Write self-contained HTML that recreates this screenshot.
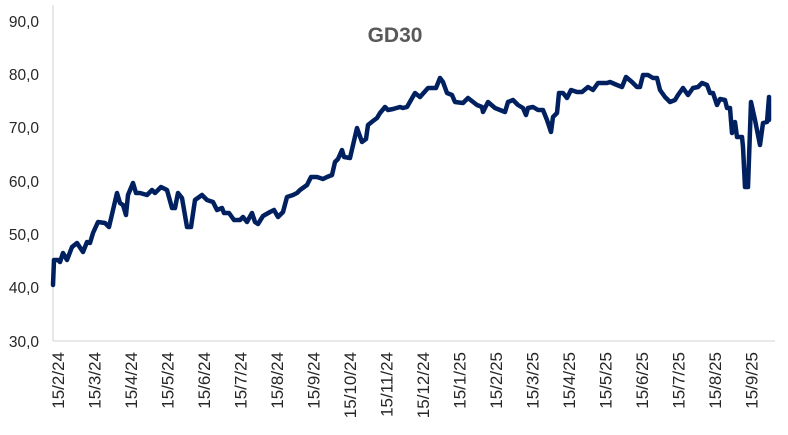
<!DOCTYPE html>
<html><head><meta charset="utf-8"><style>
html,body{margin:0;padding:0;background:#fff;}
svg{display:block;font-family:"Liberation Sans",sans-serif;}
</style></head><body>
<svg width="788" height="435" viewBox="0 0 788 435">
<text x="395" y="42" text-anchor="middle" font-size="21" font-weight="bold" fill="#595959">GD30</text>
<g font-size="15.5" fill="#262626" text-anchor="end">
<text x="39" y="27">90,0</text>
<text x="39" y="80">80,0</text>
<text x="39" y="133">70,0</text>
<text x="39" y="187">60,0</text>
<text x="39" y="240">50,0</text>
<text x="39" y="293">40,0</text>
<text x="39" y="347">30,0</text>
</g>
<line x1="53" y1="5" x2="53" y2="341" stroke="#d0d0d0" stroke-width="1"/>
<line x1="53" y1="341" x2="775" y2="341" stroke="#d0d0d0" stroke-width="1"/>
<g font-size="17" fill="#262626" text-anchor="end">
<text transform="translate(64,352) rotate(-90)">15/2/24</text>
<text transform="translate(100.5,352) rotate(-90)">15/3/24</text>
<text transform="translate(137,352) rotate(-90)">15/4/24</text>
<text transform="translate(173.5,352) rotate(-90)">15/5/24</text>
<text transform="translate(210,352) rotate(-90)">15/6/24</text>
<text transform="translate(246.5,352) rotate(-90)">15/7/24</text>
<text transform="translate(283,352) rotate(-90)">15/8/24</text>
<text transform="translate(319.5,352) rotate(-90)">15/9/24</text>
<text transform="translate(356,352) rotate(-90)">15/10/24</text>
<text transform="translate(392.5,352) rotate(-90)">15/11/24</text>
<text transform="translate(429,352) rotate(-90)">15/12/24</text>
<text transform="translate(465.5,352) rotate(-90)">15/1/25</text>
<text transform="translate(502,352) rotate(-90)">15/2/25</text>
<text transform="translate(538.5,352) rotate(-90)">15/3/25</text>
<text transform="translate(575,352) rotate(-90)">15/4/25</text>
<text transform="translate(611.5,352) rotate(-90)">15/5/25</text>
<text transform="translate(648,352) rotate(-90)">15/6/25</text>
<text transform="translate(684.5,352) rotate(-90)">15/7/25</text>
<text transform="translate(721,352) rotate(-90)">15/8/25</text>
<text transform="translate(757.5,352) rotate(-90)">15/9/25</text>
</g>
<polyline fill="none" stroke="#002060" stroke-width="4.5" stroke-linejoin="round" stroke-linecap="round" points="
53,285 54,260 58,260 60,262 63,253 67,260 72,247 77,243 83,252 87,242 90,243 93,233 98,222 105,223 109,227 113,210 117,193 120,203 123,205 126,215 128,195 133,183 136,193 140,193 147,195 152,190 155,193 161,187 167,190 172,208 175,208 178,193 182,198 187,227 191,227 195,200 202,195 207,200 213,202 217,210 222,208 224,213 229,213 234,220 240,220 243,217 247,222 252,213 255,222 258,224 263,216 270,212 274,210 278,217 283,212 287,197 293,195 297,193 300,190 307,185 311,177 317,177 323,179 327,177 332,175 335,162 338,159 342,150 344,157 350,158 357,128 362,142 366,139 368,125 373,121 377,118 380,113 385,107 388,110 393,109 400,107 403,108 407,107 415,93 420,97 428,88 436,88 440,78 443,82 447,93 452,95 455,102 463,103 468,98 477,105 482,107 483,112 488,102 495,108 500,110 505,112 508,102 513,100 518,105 523,108 526,115 528,108 533,107 538,110 543,110 547,120 551,132 553,117 557,113 559,93 563,93 567,98 571,90 577,92 582,92 588,87 593,90 598,83 607,83 610,82 617,85 622,87 626,77 632,82 637,87 640,87 643,75 648,75 653,78 657,78 660,90 665,97 670,102 675,100 678,95 683,88 688,95 693,88 698,87 702,83 707,85 710,93 713,93 717,105 720,99 725,100 727,108 730,108 732,133 735,122 737,137 742,137 743,147 745,187 748,187 751,102 755,120 760,145 763,123 767,122 769,97 769,120"/>
</svg>
</body></html>
